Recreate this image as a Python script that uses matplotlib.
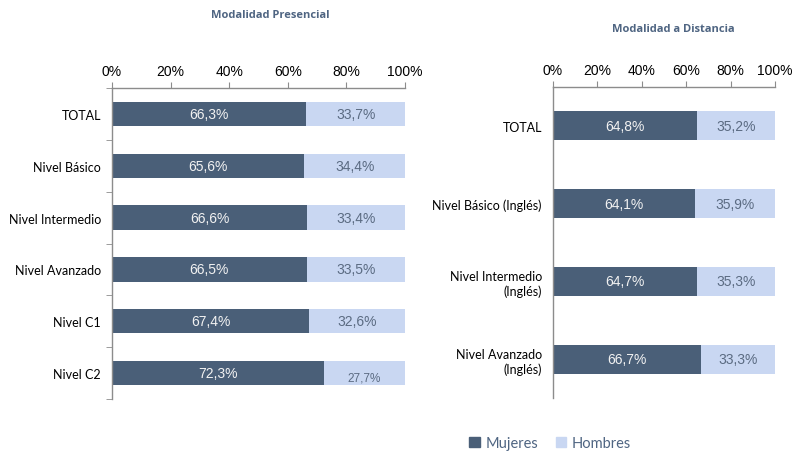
import matplotlib
matplotlib.use("Agg")
import matplotlib.pyplot as plt
from matplotlib.patches import Patch

pres_cats = ["TOTAL", "Nivel Básico", "Nivel Intermedio", "Nivel Avanzado", "Nivel C1", "Nivel C2"]
pres_mujeres = [66.3, 65.6, 66.6, 66.5, 67.4, 72.3]
pres_hombres = [33.7, 34.4, 33.4, 33.5, 32.6, 27.7]

dist_cats = ["TOTAL", "Nivel Básico (Inglés)", "Nivel Intermedio\n(Inglés)", "Nivel Avanzado\n(Inglés)"]
dist_mujeres = [64.8, 64.1, 64.7, 66.7]
dist_hombres = [35.2, 35.9, 35.3, 33.3]

DARK = "#4a5f78"
LIGHT = "#c9d7f2"
GREY = "#8c8c8c"
TITLE_C = "#4f6582"
TICK_FONT = "Liberation Sans"
CAT_FONT = "Lato"


def fmt(v):
    return f"{v:.1f}".replace(".", ",") + "%"


def draw(ax, cats, muj, hom, width, yticks_on, small_last=False):
    y = list(range(len(cats)))
    ax.barh(y, muj, height=width, color=DARK)
    ax.barh(y, hom, left=muj, height=width, color=LIGHT)
    for i, (m, h) in enumerate(zip(muj, hom)):
        ax.text(m / 2, i, fmt(m), ha="center", va="center", color="#f2f2f2",
                fontsize=10, family=TICK_FONT)
        last = small_last and i == len(cats) - 1
        ax.text(m + h / 2, i + (0.08 if last else 0), fmt(h), ha="center", va="center",
                color="#5b6b82", fontsize=8.5 if last else 10, family=TICK_FONT)
    ax.set_xlim(0, 100)
    ax.set_ylim(len(cats) - 0.5, -0.5)
    ax.set_xticks(range(0, 101, 20))
    ax.set_xticklabels([f"{t}%" for t in range(0, 101, 20)], family=TICK_FONT, fontsize=10)
    ax.xaxis.tick_top()
    ax.tick_params(axis="x", direction="out", length=4, color=GREY, pad=3)
    ax.set_yticks(y)
    ax.set_yticklabels(cats, family=CAT_FONT, fontsize=9)
    ax.tick_params(axis="y", length=0, pad=8)
    if yticks_on:
        ax.set_yticks([i + 0.5 for i in range(-1, len(cats))], minor=True)
        ax.tick_params(axis="y", which="minor", length=4, color=GREY, direction="out")
    for s in ["bottom", "right"]:
        ax.spines[s].set_visible(False)
    for s in ["top", "left"]:
        ax.spines[s].set_color(GREY)
        ax.spines[s].set_linewidth(1)


fig = plt.figure(figsize=(7.94, 4.52), dpi=100)
ax1 = fig.add_axes([112 / 794, 1 - 400 / 452, 293 / 794, 311 / 452])
ax2 = fig.add_axes([553 / 794, 1 - 399 / 452, 222 / 794, 311 / 452])

draw(ax1, pres_cats, pres_mujeres, pres_hombres, 0.47, True, small_last=True)
draw(ax2, dist_cats, dist_mujeres, dist_hombres, 0.375, False)

for title, xc, yc in [("Modalidad Presencial", 270, 15), ("Modalidad a Distancia", 673, 29)]:
    fig.text(xc / 794, 1 - yc / 452, title, ha="center", va="center", fontsize=8,
             fontweight="bold", color=TITLE_C, family="Open Sans")

handles = [Patch(color=DARK, label="Mujeres"), Patch(color=LIGHT, label="Hombres")]
leg = fig.legend(handles=handles, loc="center", bbox_to_anchor=(550 / 794, 1 - 444 / 452),
                 ncol=2, frameon=False, handlelength=0.75, handleheight=0.75,
                 handletextpad=0.35, columnspacing=1.2,
                 prop={"family": CAT_FONT, "size": 10.5})
for t in leg.get_texts():
    t.set_color("#4f6582")

fig.savefig("out.png", dpi=100)
